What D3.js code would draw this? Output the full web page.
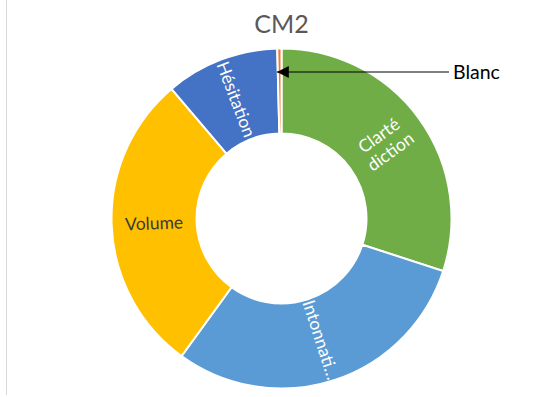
<!DOCTYPE html>
<html>
<head>
<meta charset="utf-8">
<script src="https://cdn.jsdelivr.net/npm/d3@7"></script>
<style>
  html, body { margin: 0; padding: 0; background: #fff; }
  svg { display: block; }
</style>
</head>
<body>
<svg id="chart" width="553" height="397"></svg>
<script>
// Répartition des remarques – CM2
const categories = ["Clarté diction", "Intonnation", "Volume", "Hésitation", "Blanc"];
const labels     = [["Clarté", "diction"], ["Intonnati…"], ["Volume"], ["Hésitation"], null];
const values     = [75, 75, 72, 27, 1];
const colors     = ["#70AD47", "#5B9BD5", "#FFC000", "#4472C4", "#ED7D31"];
const title      = "CM2";
const calloutText = "Blanc";

const svg = d3.select("#chart");
const cx = 281.5, cy = 218.5, outerR = 170, innerR = 85;
const font = "Lato, 'Open Sans', sans-serif";

// faint frame edge on the left
svg.append("line")
  .attr("x1", 6.5).attr("x2", 6.5).attr("y1", 0).attr("y2", 395)
  .attr("stroke", "#d9d9d9").attr("stroke-width", 1);

svg.append("text")
  .attr("x", cx).attr("y", 33)
  .attr("text-anchor", "middle")
  .attr("font-family", font).attr("font-size", 25)
  .attr("fill", "#595959")
  .text(title);

const pie = d3.pie().sort(null).value(d => d)(values);
const arc = d3.arc().innerRadius(innerR).outerRadius(outerR);

const g = svg.append("g").attr("transform", `translate(${cx},${cy})`);

g.selectAll("path.slice")
  .data(pie)
  .join("path")
  .attr("class", "slice")
  .attr("d", arc)
  .attr("fill", (d, i) => colors[i])
  .attr("stroke", "#fff")
  .attr("stroke-width", 2);

// radial slice labels
const midR = (innerR + outerR) / 2;
const deg = 180 / Math.PI;
pie.forEach((d, i) => {
  const lines = labels[i];
  if (!lines) return;
  const a = (d.startAngle + d.endAngle) / 2;
  const x = Math.sin(a) * midR, y = -Math.cos(a) * midR;
  let rot = a * deg - 90;
  if (rot > 90) rot -= 180;
  const t = g.append("text")
    .attr("transform", `translate(${x},${y}) rotate(${rot})`)
    .attr("text-anchor", "middle")
    .attr("font-family", font).attr("font-size", 17.5)
    .attr("fill", categories[i] === "Volume" ? "#3a3a3a" : "#fff");
  const lh = 20;
  lines.forEach((ln, k) => {
    t.append("tspan")
      .attr("x", 0)
      .attr("y", (k - (lines.length - 1) / 2) * lh)
      .attr("dy", "0.35em")
      .text(ln);
  });
});

// callout for the thin "Blanc" slice
const blanc = pie[categories.indexOf("Blanc")];
const tipY = 72;
const tipX = cx + Math.sin(blanc.startAngle) * (cy - tipY) - 1;
svg.append("defs").append("marker")
  .attr("id", "arrow").attr("viewBox", "0 0 10 10")
  .attr("refX", 10).attr("refY", 5)
  .attr("markerWidth", 12).attr("markerHeight", 12)
  .attr("markerUnits", "userSpaceOnUse")
  .attr("orient", "auto")
  .append("path").attr("d", "M0,0L10,5L0,10Z").attr("fill", "#000");

svg.append("line")
  .attr("x1", 449).attr("y1", tipY).attr("x2", tipX).attr("y2", tipY)
  .attr("stroke", "#000").attr("stroke-width", 1.2)
  .attr("marker-end", "url(#arrow)");

svg.append("text")
  .attr("x", 453).attr("y", tipY).attr("dy", "0.35em")
  .attr("font-family", font).attr("font-size", 19.5)
  .attr("fill", "#000")
  .text(calloutText);
</script>
</body>
</html>
